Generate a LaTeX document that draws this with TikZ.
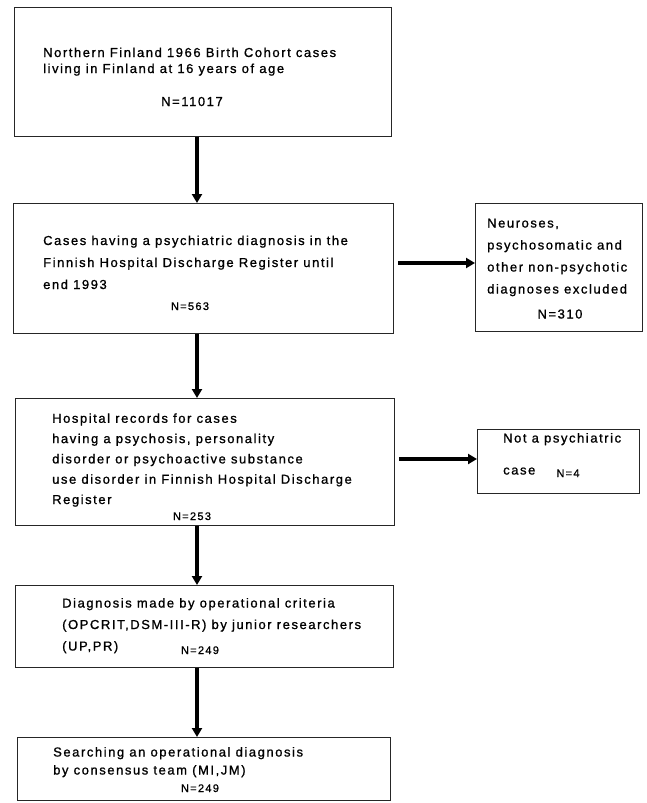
\documentclass[tikz,border=0pt]{standalone}
\usepackage{fontspec}
\setmainfont{Liberation Sans}[LetterSpace=12, FakeBold=1]
\usepackage{tikz}
\usetikzlibrary{arrows.meta,positioning,calc}
\newcommand{\bodyfont}[1]{\fontsize{13}{#1}\selectfont}
\tikzset{
  box/.style={rectangle, draw=black!85, line width=0.8pt, inner sep=0pt, anchor=north west},
  txt/.style={anchor=base west, inner sep=0pt, align=left},
  count/.style={anchor=base, inner sep=0pt, font=\fontsize{11}{13}\selectfont},
  arr/.style={-{Triangle[length=9pt,width=10pt]}, line width=3.4pt},
}

\begin{document}
\begin{tikzpicture}[x=1pt,y=-1pt]
  \useasboundingbox (0,0) rectangle (647,803);
  % ── main column ───────────────────────────────────────────────────
  \node[box, minimum width=377pt, minimum height=129pt] (cohort)    at (14,7)   {};
  \node[box, minimum width=380pt, minimum height=130pt] (psych)     at (13,203) {};
  \node[box, minimum width=379pt, minimum height=127pt] (records)   at (15,398) {};
  \node[box, minimum width=378pt, minimum height=82pt]  (opcrit)    at (15,585) {};
  \node[box, minimum width=373pt, minimum height=63pt]  (consensus) at (17,737) {};
  % ── side boxes ────────────────────────────────────────────────────
  \node[box, minimum width=167pt, minimum height=128pt] (neuro)   at (475,203) {};
  \node[box, minimum width=162pt, minimum height=64pt]  (notcase) at (477,429) {};
  % ── texts (anchored on the last line) ─────────────────────────────
  \node[txt, font=\bodyfont{16}] (cohorttxt) at (43,73)
    {Northern Finland 1966 Birth Cohort cases\\living in Finland at 16 years of age};
  \node[count, font=\bodyfont{15}] (cohortn) at (192,106) {N=11017};
  \node[txt, font=\bodyfont{22}] (psychtxt) at (43,289)
    {Cases having a psychiatric diagnosis in the\\Finnish Hospital Discharge Register until\\end 1993};
  \node[count] (psychn) at (190,310) {N=563};
  \node[txt, font=\bodyfont{22}] (neurotxt) at (487,293.5)
    {Neuroses,\\psychosomatic and\\other non-psychotic\\diagnoses excluded};
  \node[count, font=\bodyfont{15}] (neuron) at (560,318.5) {N=310};
  \node[txt, font=\bodyfont{20.3}] (recordstxt) at (52,504)
    {Hospital records for cases\\having a psychosis, personality\\disorder or psychoactive substance\\use disorder in Finnish Hospital Discharge\\Register};
  \node[count] (recordsn) at (192,520) {N=253};
  \node[txt, font=\bodyfont{32}] (notcasetxt) at (503,474.5) {Not a psychiatric\\case};
  \node[count] (notcasen) at (568,477) {N=4};
  \node[txt, font=\bodyfont{21.5}] (opcrittxt) at (62,650.5)
    {Diagnosis made by operational criteria\\(OPCRIT,DSM-III-R) by junior researchers\\(UP,PR)};
  \node[count] (opcritn) at (200,654) {N=249};
  \node[txt, font=\bodyfont{18}] (consensustxt) at (53,774.5)
    {Searching an operational diagnosis\\by consensus team (MI,JM)};
  \node[count] (consensusn) at (200,792) {N=249};
  % ── arrows ────────────────────────────────────────────────────────
  \coordinate (spine) at (197,0);
  \coordinate (row1) at (0,263);
  \coordinate (row2) at (0,459);
  \draw[arr] (cohort.south -| spine) -- (psych.north -| spine);
  \draw[arr] (psych.south -| spine) -- (records.north -| spine);
  \draw[arr] (records.south -| spine) -- (opcrit.north -| spine);
  \draw[arr] (opcrit.south -| spine) -- (consensus.north -| spine);
  \draw[arr, shorten <=4pt] (psych.east |- row1) -- (neuro.west |- row1);
  \draw[arr, shorten <=4pt] (records.east |- row2) -- (notcase.west |- row2);
\end{tikzpicture}
\end{document}
